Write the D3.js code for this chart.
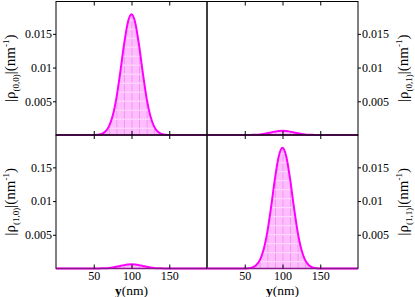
<!DOCTYPE html>
<html>
<head>
<meta charset="utf-8">
<script src="https://cdn.jsdelivr.net/npm/d3@7"></script>
<style>
  body { margin: 0; background: #fff; }
  svg { display: block; }
  text { font-family: "Liberation Serif", "DejaVu Serif", serif; }
</style>
</head>
<body>
<svg id="chart" width="415" height="297"></svg>
<script>
// positions along y (nm), every 5 nm
const yPos = d3.range(0, 201, 5);

// |rho| values (nm^-1)
const rho00 = [0,0,0,0,0,0,0,0,0,0,
  0.00001,0.00004,0.00016,0.00048,0.00125,0.00282,0.00548,0.0092,0.01332,0.01662,
  0.0179,
  0.01662,0.01332,0.0092,0.00548,0.00282,0.00125,0.00048,0.00016,0.00004,0.00001,
  0,0,0,0,0,0,0,0,0,0];
const rho01 = [0,0,0,0,0,0,0,0,0,0,
  0,0.00001,0.00002,0.00004,0.00008,0.00015,0.00025,0.00038,0.0005,0.00059,
  0.00062,
  0.00059,0.0005,0.00038,0.00025,0.00015,0.00008,0.00004,0.00002,0.00001,0,
  0,0,0,0,0,0,0,0,0,0];
const rho10 = [0,0,0,0,0,0,0,0,0,0,
  0,0.00001,0.00002,0.00004,0.00008,0.00015,0.00025,0.00038,0.0005,0.00059,
  0.00062,
  0.00059,0.0005,0.00038,0.00025,0.00015,0.00008,0.00004,0.00002,0.00001,0,
  0,0,0,0,0,0,0,0,0,0];
const rho11 = [0,0,0,0,0,0,0,0,0,0,
  0.00001,0.00004,0.00016,0.00048,0.00125,0.00282,0.00548,0.0092,0.01332,0.01662,
  0.0179,
  0.01662,0.01332,0.0092,0.00548,0.00282,0.00125,0.00048,0.00016,0.00004,0.00001,
  0,0,0,0,0,0,0,0,0,0];

const xTicks = [50, 100, 150];
const yTicks = [0.005, 0.01, 0.015];
const yLabelsA = ["0.005", "0.01", "0.015"];
const yLabelsB = ["0.005", "0.01", "0.15"];   // as printed in the original
const panelNames = ["(0,0)", "(0,1)", "(1,0)", "(1,1)"];

let marginLeft = 56, marginTop = 1.5;
let pw = 151, ph = 133.5;
let serif = "'Liberation Serif', 'DejaVu Serif', serif";

let svg = d3.select("#chart");

let x = d3.scaleLinear().domain([0, 200]).range([0, pw]);
let y = d3.scaleLinear().domain([0, 0.0198]).range([ph, 0]);

// hatched pink fill like the gnuplot pattern
let defs = svg.append("defs");
let pat = defs.append("pattern")
  .attr("id", "hatch")
  .attr("patternUnits", "userSpaceOnUse")
  .attr("width", x(10)).attr("height", 9)
  .attr("y", (ph - 7.3) % 9);
pat.append("rect").attr("width", x(10)).attr("height", 9).attr("fill", "#ffbcff");
pat.append("line").attr("x1", 0.4).attr("x2", 0.4).attr("y1", 0).attr("y2", 9)
  .attr("stroke", "#e48ae4").attr("stroke-width", 0.8);
pat.append("line").attr("x1", 0).attr("x2", x(10)).attr("y1", 0.4).attr("y2", 0.4)
  .attr("stroke", "#ffffff").attr("stroke-width", 0.8).attr("stroke-dasharray", "2,1");

let panels = [
  { name: panelNames[0], vals: rho00, col: 0, row: 0, labels: yLabelsA },
  { name: panelNames[1], vals: rho01, col: 1, row: 0, labels: yLabelsA },
  { name: panelNames[2], vals: rho10, col: 0, row: 1, labels: yLabelsB },
  { name: panelNames[3], vals: rho11, col: 1, row: 1, labels: yLabelsA }
];

let area = d3.area().x(d => x(d[0])).y0(y(0)).y1(d => y(d[1])).curve(d3.curveMonotoneX);
let line = d3.line().x(d => x(d[0])).y(d => y(d[1])).curve(d3.curveMonotoneX);

panels.forEach(p => {
  let g = svg.append("g")
    .attr("transform", "translate(" + (marginLeft + p.col * pw) + "," + (marginTop + p.row * ph) + ")");
  let pts = yPos.map((v, i) => [v, p.vals[i]]);

  g.append("path").datum(pts).attr("d", area).attr("fill", "url(#hatch)");
  g.append("path").datum(pts).attr("d", line)
    .attr("fill", "none").attr("stroke", "#ff00ff").attr("stroke-width", 2);

  // frame
  g.append("rect").attr("width", pw).attr("height", ph)
    .attr("fill", "none").attr("stroke", "#000").attr("stroke-width", 1);
  // baseline where curve sits on the axis
  g.append("line").attr("x1", 0).attr("x2", pw).attr("y1", ph).attr("y2", ph)
    .attr("stroke", "#8a1a8a").attr("stroke-width", 1.6);

  // inward x ticks, top and bottom
  g.append("g").call(d3.axisTop(x).tickValues(xTicks).tickSize(-4).tickFormat(""))
    .call(a => a.select(".domain").remove());
  let bx = g.append("g").attr("transform", "translate(0," + ph + ")")
    .attr("font-family", serif)
    .call(d3.axisBottom(x).tickValues(xTicks).tickSize(-4).tickPadding(3)
      .tickFormat(p.row === 1 ? d3.format("d") : ""));
  bx.attr("font-family", serif).attr("font-size", 12);
  bx.select(".domain").remove();
  bx.selectAll("text").attr("fill", "#000");

  // y ticks and labels on the outer side
  let yAx = (p.col === 0 ? d3.axisLeft(y) : d3.axisRight(y))
    .tickValues(yTicks).tickSize(3).tickPadding(1)
    .tickFormat((d, i) => p.labels[i]);
  let ay = g.append("g").attr("transform", "translate(" + (p.col === 0 ? 0 : pw) + ",0)").call(yAx);
  ay.attr("font-family", serif).attr("font-size", 12);
  ay.select(".domain").remove();
  ay.selectAll("text").attr("fill", "#000");

  // y label
  let lx = p.col === 0 ? 15 : 408;
  let lab = svg.append("text")
    .attr("transform", "translate(" + lx + "," + (marginTop + p.row * ph + ph / 2) + ") rotate(-90)")
    .attr("text-anchor", "middle")
    .style("font-size", "15px");
  lab.append("tspan").text("|\u03c1");
  lab.append("tspan").attr("dy", 4).style("font-size", "9px").text(p.name);
  lab.append("tspan").attr("dy", -4).text("|(nm");
  lab.append("tspan").attr("dy", -6).style("font-size", "9px").text("-1");
  lab.append("tspan").attr("dy", 6).text(")");

  // x label
  if (p.row === 1) {
    let xl = svg.append("text")
      .attr("x", marginLeft + p.col * pw + pw / 2).attr("y", 294.5)
      .attr("text-anchor", "middle").style("font-size", "13.5px");
    xl.append("tspan").style("font-weight", "bold").text("y");
    xl.append("tspan").text("(nm)");
  }
});
</script>
</body>
</html>
